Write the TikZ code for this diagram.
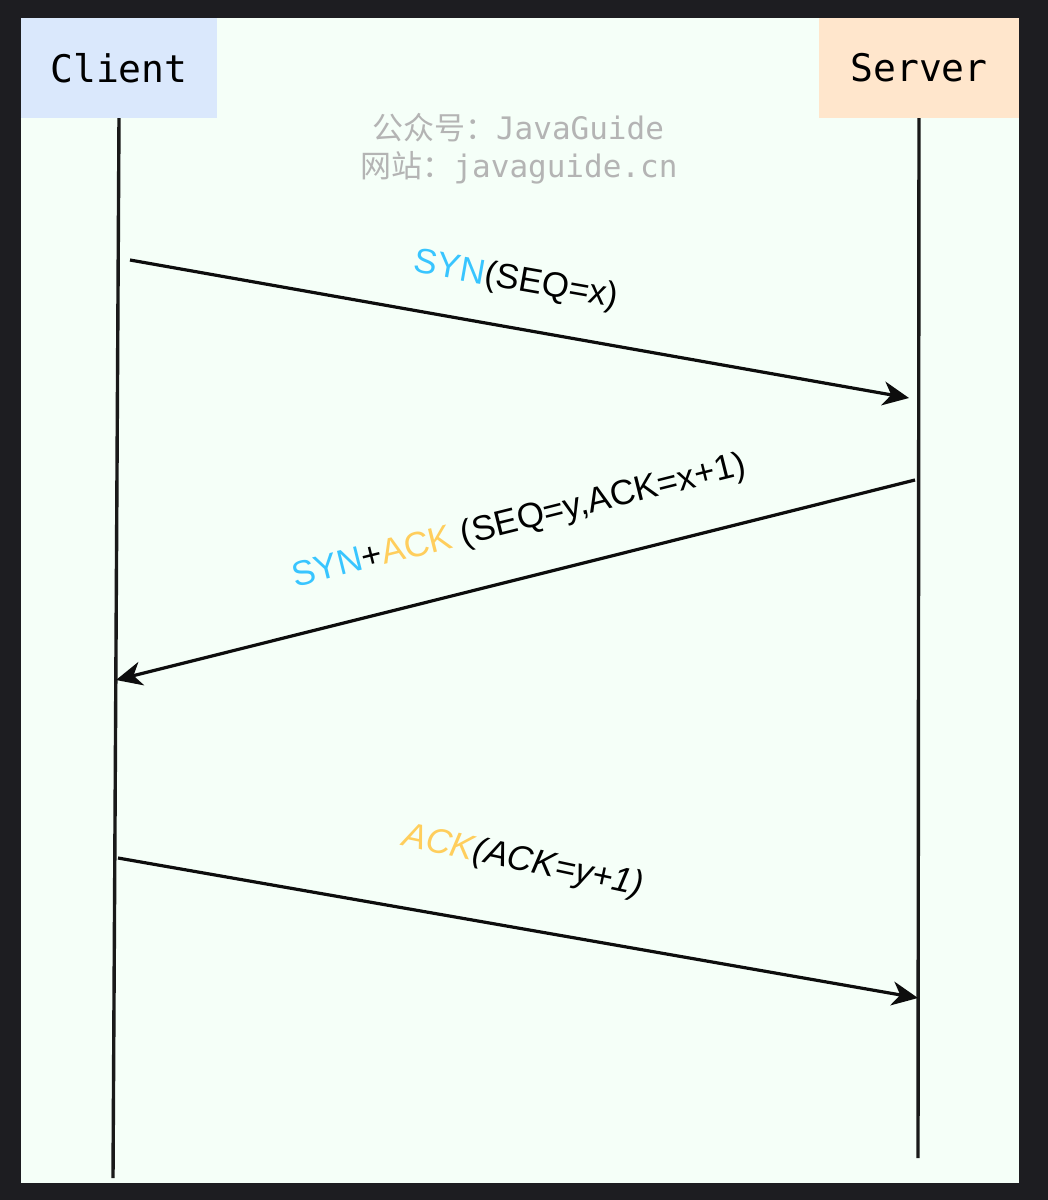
\documentclass[tikz,border=0pt]{standalone}
\usepackage{fontspec}
\setmainfont{Liberation Sans}
\setmonofont{DejaVu Sans Mono}
\newfontfamily\cjkfont{Noto Sans CJK SC}
\usetikzlibrary{arrows.meta}
\definecolor{framedark}{RGB}{29,29,33}
\definecolor{bgmint}{RGB}{245,255,248}
\definecolor{clientfill}{RGB}{218,232,252}
\definecolor{serverfill}{RGB}{255,230,204}
\definecolor{synblue}{RGB}{56,197,255}
\definecolor{ackyellow}{RGB}{255,206,92}
\definecolor{wmgray}{RGB}{180,180,180}
\begin{document}
\begin{tikzpicture}[x=1pt,y=-1pt,
  actor/.style={draw=none, minimum height=100pt, inner sep=0pt, font=\fontsize{38}{44}\selectfont\ttfamily},
  life/.style={line width=3.4pt, draw=black!90},
  msg/.style={line width=3.2pt, draw=black!95, -{Stealth[length=26pt,width=24pt,inset=8pt]}},
  lbl/.style={inner sep=0pt, font=\fontsize{35}{40}\selectfont},
  wm/.style={inner sep=0pt, text=wmgray, font=\fontsize{31}{36}\selectfont\ttfamily}]
\fill[framedark] (0,0) rectangle (1048,1200);
\fill[bgmint] (21,18) rectangle (1019,1183);
\useasboundingbox (0,0) rectangle (1048,1200);

\node[actor, fill=clientfill, minimum width=196pt] (client) at (119,68) {Client};
\node[actor, fill=serverfill, minimum width=200pt] (server) at (919,68) {Server};

\coordinate (cbot) at (113,1178);
\coordinate (sbot) at (918,1158);
\draw[life] (client.south) -- (cbot);
\draw[life] (server.south) -- (sbot);

\node[wm] (wm1) at (518,128) {{\cjkfont 公众号：}JavaGuide};
\node[wm] (wm2) at (519,168) {{\cjkfont 网站：}javaguide.cn};

\coordinate (m1s) at (130,260);
\coordinate (m1e) at (909,398);
\coordinate (m2s) at (915,480);
\coordinate (m2e) at (116,680);
\coordinate (m3s) at (118,858);
\coordinate (m3e) at (918,998);

\draw[msg] (m1s) -- (m1e);
\draw[msg] (m2s) -- (m2e);
\draw[msg] (m3s) -- (m3e);

\node[lbl, rotate=-10] (l1) at (516,281) {\textcolor{synblue}{SYN}(SEQ=x)};
\node[lbl, rotate=14] (l2) at (519,522) {\textcolor{synblue}{SYN}+\textcolor{ackyellow}{ACK} (SEQ=y,ACK=x+1)};
\node[lbl, rotate=-12, font=\fontsize{35}{40}\selectfont\itshape] (l3) at (523,862) {\textcolor{ackyellow}{ACK}(ACK=y+1)};
\end{tikzpicture}
\end{document}
